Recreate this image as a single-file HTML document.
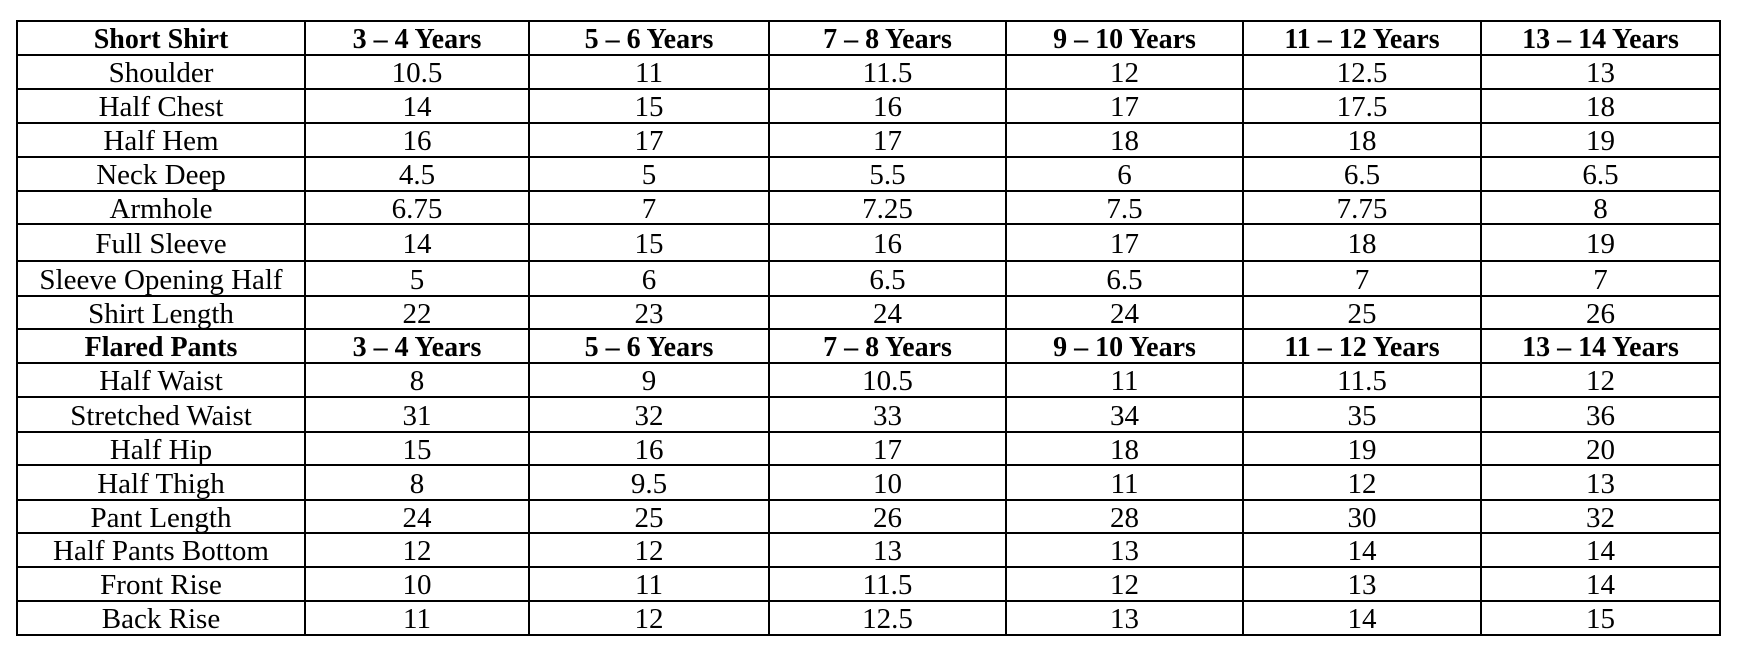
<!DOCTYPE html>
<html><head><meta charset="utf-8"><style>
html,body{margin:0;padding:0;background:#fff;width:1739px;height:655px;overflow:hidden}
.c{position:absolute;box-sizing:border-box;display:flex;align-items:center;justify-content:center;font-family:"Liberation Serif","Times New Roman",serif;font-size:29px;color:#000;padding-top:3px;white-space:nowrap}
.b{font-weight:bold;font-size:28px}
.h{position:absolute;background:#000}
</style></head><body>
<div id="t"></div>
<script>
const xs=[17,305,529,769,1006,1243,1481,1720];
const ys=[21,55,89,123,157,191,224,261,296,329,363,397,432,465,500,533,567,601,635];
const rows=[
["Short Shirt","3 – 4 Years","5 – 6 Years","7 – 8 Years","9 – 10 Years","11 – 12 Years","13 – 14 Years"],
["Shoulder","10.5","11","11.5","12","12.5","13"],
["Half Chest","14","15","16","17","17.5","18"],
["Half Hem","16","17","17","18","18","19"],
["Neck Deep","4.5","5","5.5","6","6.5","6.5"],
["Armhole","6.75","7","7.25","7.5","7.75","8"],
["Full Sleeve","14","15","16","17","18","19"],
["Sleeve Opening Half","5","6","6.5","6.5","7","7"],
["Shirt Length","22","23","24","24","25","26"],
["Flared Pants","3 – 4 Years","5 – 6 Years","7 – 8 Years","9 – 10 Years","11 – 12 Years","13 – 14 Years"],
["Half Waist","8","9","10.5","11","11.5","12"],
["Stretched Waist","31","32","33","34","35","36"],
["Half Hip","15","16","17","18","19","20"],
["Half Thigh","8","9.5","10","11","12","13"],
["Pant Length","24","25","26","28","30","32"],
["Half Pants Bottom","12","12","13","13","14","14"],
["Front Rise","10","11","11.5","12","13","14"],
["Back Rise","11","12","12.5","13","14","15"]];
let h="";
rows.forEach((r,i)=>{r.forEach((t,j)=>{
h+=`<div class="c${(i==0||i==9)?' b':''}" style="left:${xs[j]}px;top:${ys[i]}px;width:${xs[j+1]-xs[j]}px;height:${ys[i+1]-ys[i]}px">${t}</div>`;});});
ys.forEach(y=>{h+=`<div class="h" style="left:${xs[0]-1}px;top:${y-1}px;width:${xs[7]-xs[0]+2}px;height:2px"></div>`;});
xs.forEach(x=>{h+=`<div class="h" style="left:${x-1}px;top:${ys[0]-1}px;width:2px;height:${ys[18]-ys[0]+2}px"></div>`;});
document.getElementById("t").innerHTML=h;
</script>
</body></html>
